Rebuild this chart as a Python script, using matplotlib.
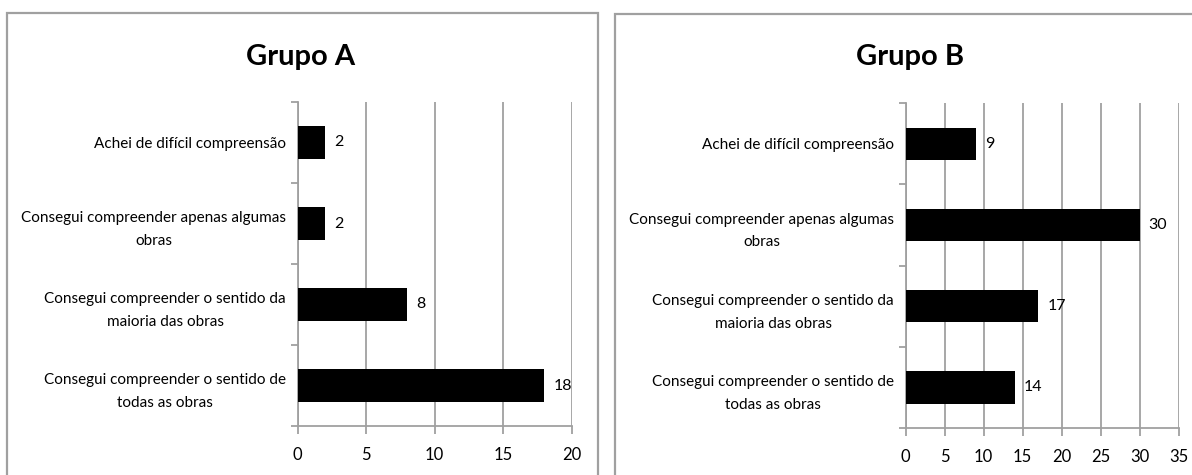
import matplotlib

matplotlib.use("Agg")
import matplotlib.pyplot as plt
from matplotlib.patches import Rectangle
from matplotlib.ticker import FixedLocator, MultipleLocator

categories = [
    "Achei de difícil compreensão",
    "Consegui compreender apenas algumas\nobras",
    "Consegui compreender o sentido da\nmaioria das obras",
    "Consegui compreender o sentido de\ntodas as obras",
]
group_a = [2, 2, 8, 18]
group_b = [9, 30, 17, 14]
titles = ["Grupo A", "Grupo B"]
x_limits = [20, 35]

FONT = ["Lato", "DejaVu Sans"]
GRAY = "#a0a0a0"

plt.rcParams["font.family"] = FONT

figure = plt.figure(figsize=(11.92, 4.75), dpi=100)
W, H = 1192, 475


def px_rect(left, top, right, bottom):
    return [left / W, 1 - bottom / H, (right - left) / W, (bottom - top) / H]


# chart area frames (they run off the bottom/right of the image)
for left, top, right in ((7, 13.5, 598), (614.5, 14, 1206)):
    figure.patches.append(
        Rectangle(
            (left / W, -0.05),
            (right - left) / W,
            1.05 - top / H,
            transform=figure.transFigure,
            fill=False,
            edgecolor=GRAY,
            linewidth=1.6,
        )
    )

axes_boxes = [px_rect(297.7, 102, 571.7, 426), px_rect(905.7, 103.3, 1178.7, 428)]
title_centres = [(301, 57), (910, 57)]

for values, title, x_max, box, (tx, ty) in zip(
    (group_a, group_b), titles, x_limits, axes_boxes, title_centres
):
    axis = figure.add_axes(box)
    positions = list(range(len(categories)))[::-1]
    axis.barh(positions, values, height=0.4, color="black", zorder=3)
    for position, value in zip(positions, values):
        axis.annotate(
            str(value),
            (value, position),
            xytext=(6.5, 0),
            textcoords="offset points",
            va="center",
            ha="left",
            fontsize=11.5,
        )
    axis.set_xlim(0, x_max)
    axis.set_ylim(-0.5, len(categories) - 0.5)
    axis.xaxis.set_major_locator(MultipleLocator(5))
    axis.set_yticks(positions)
    axis.set_yticklabels(
        categories, fontsize=11, multialignment="center", linespacing=1.8
    )
    axis.yaxis.set_minor_locator(
        FixedLocator([p - 0.5 for p in range(len(categories) + 1)])
    )
    axis.tick_params(axis="y", which="major", length=0, pad=8.5)
    axis.tick_params(axis="y", which="minor", length=5, color=GRAY, width=1.3)
    axis.tick_params(axis="x", length=6, color=GRAY, width=1.3, labelsize=12, pad=9)
    axis.grid(axis="x", color=GRAY, linewidth=1.3, zorder=0)
    for side in ("top", "right"):
        axis.spines[side].set_visible(False)
    for side in ("left", "bottom"):
        axis.spines[side].set_color(GRAY)
        axis.spines[side].set_linewidth(1.3)
    figure.text(
        tx / W,
        1 - ty / H,
        title,
        ha="center",
        va="center",
        fontsize=21,
        fontweight="bold",
    )

figure.savefig("out.png", dpi=100)
